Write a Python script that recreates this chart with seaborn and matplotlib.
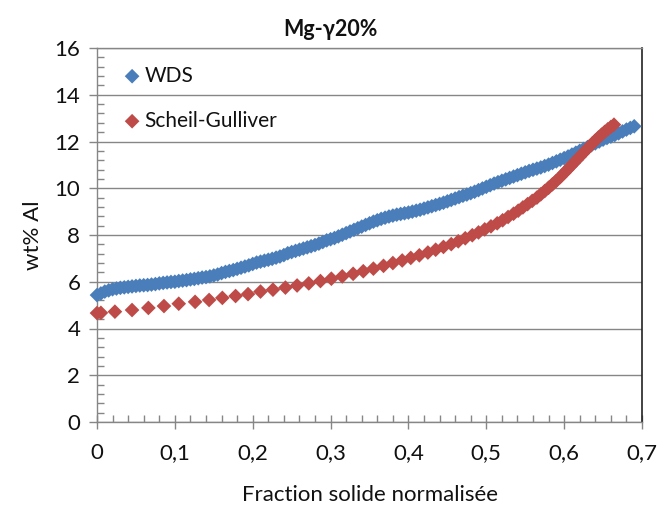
import matplotlib
matplotlib.use("Agg")
import matplotlib.pyplot as plt
import seaborn as sns
import pandas as pd
from matplotlib.ticker import MultipleLocator, FixedLocator

# ---- data ----
wds_x = [round(i * 0.005, 3) for i in range(139)]
wds_y = [5.43, 5.50, 5.58, 5.63, 5.68, 5.71, 5.74, 5.76, 5.78, 5.80,
         5.82, 5.84, 5.85, 5.86, 5.88, 5.90, 5.93, 5.95, 5.97, 5.99,
         6.00, 6.03, 6.05, 6.07, 6.10, 6.12, 6.15, 6.18, 6.20, 6.23,
         6.27, 6.31, 6.37, 6.42, 6.46, 6.50, 6.55, 6.60, 6.65, 6.70,
         6.76, 6.82, 6.86, 6.90, 6.94, 6.98, 7.03, 7.08, 7.14, 7.22,
         7.27, 7.32, 7.37, 7.42, 7.47, 7.52, 7.57, 7.63, 7.70, 7.77,
         7.82, 7.87, 7.94, 8.01, 8.08, 8.15, 8.22, 8.29, 8.36, 8.43,
         8.50, 8.57, 8.63, 8.69, 8.74, 8.79, 8.83, 8.87, 8.90, 8.93,
         8.96, 9.00, 9.04, 9.08, 9.13, 9.18, 9.23, 9.28, 9.33, 9.38,
         9.44, 9.50, 9.56, 9.62, 9.68, 9.73, 9.79, 9.85, 9.92, 9.99,
         10.06, 10.13, 10.20, 10.26, 10.32, 10.38, 10.44, 10.50, 10.56, 10.62,
         10.68, 10.74, 10.79, 10.84, 10.89, 10.95, 11.01, 11.08, 11.15, 11.22,
         11.29, 11.36, 11.44, 11.52, 11.60, 11.68, 11.76, 11.84, 11.92, 12.00,
         12.08, 12.15, 12.21, 12.28, 12.35, 12.43, 12.51, 12.58, 12.65]

scheil_x = [0.000, 0.005, 0.023, 0.045, 0.066, 0.086, 0.105, 0.126, 0.144, 0.161,
            0.178, 0.194, 0.210, 0.226, 0.242, 0.257, 0.272, 0.287, 0.301, 0.315,
            0.329, 0.342, 0.355, 0.368, 0.380, 0.392, 0.403, 0.414, 0.425, 0.435,
            0.445, 0.455, 0.464, 0.473, 0.482, 0.490, 0.498, 0.506, 0.514, 0.521,
            0.528, 0.535, 0.541, 0.547, 0.553, 0.559, 0.565, 0.570, 0.575, 0.580,
            0.585, 0.590, 0.595, 0.600, 0.604, 0.608, 0.612, 0.616, 0.620, 0.624,
            0.628, 0.632, 0.636, 0.640, 0.644, 0.648, 0.652, 0.656, 0.660, 0.664]
scheil_y = [4.66, 4.67, 4.72, 4.79, 4.88, 4.96, 5.06, 5.14, 5.22, 5.31,
            5.39, 5.47, 5.58, 5.66, 5.75, 5.84, 5.93, 6.03, 6.13, 6.23,
            6.34, 6.45, 6.56, 6.68, 6.80, 6.91, 7.02, 7.13, 7.25, 7.37,
            7.49, 7.61, 7.73, 7.86, 7.99, 8.11, 8.24, 8.37, 8.50, 8.63,
            8.77, 8.91, 9.04, 9.18, 9.32, 9.46, 9.60, 9.74, 9.88, 10.02,
            10.17, 10.32, 10.48, 10.65, 10.79, 10.93, 11.07, 11.21, 11.35, 11.49,
            11.63, 11.77, 11.91, 12.04, 12.17, 12.29, 12.41, 12.52, 12.62, 12.72]

series_names = ["WDS", "Scheil-Gulliver"]
x_ticklabels = ["0", "0,1", "0,2", "0,3", "0,4", "0,5", "0,6", "0,7"]
y_ticklabels = ["0", "2", "4", "6", "8", "10", "12", "14", "16"]
title = "Mg-\u03b320%"
xlabel = "Fraction solide normalisée"
ylabel = "wt% Al"

sns.set_style("white")
plt.rcParams['font.family'] = ['Lato', 'DejaVu Sans']

df_w = pd.DataFrame({"x": wds_x, "y": wds_y})
df_s = pd.DataFrame({"x": scheil_x, "y": scheil_y})

fig = plt.figure(figsize=(6.6, 5.07), dpi=100)
ax = fig.add_axes([97/660, 1-422/507, (642-97)/660, (422-48)/507])

blue = "#4A7EBB"
red = "#BE4B48"
sns.scatterplot(data=df_w, x="x", y="y", ax=ax, marker="D", s=56, color=blue,
                edgecolor="none", linewidth=0, label=series_names[0], zorder=3, clip_on=False)
sns.scatterplot(data=df_s, x="x", y="y", ax=ax, marker="D", s=56, color=red,
                edgecolor="none", linewidth=0, label=series_names[1], zorder=4, clip_on=False)

ax.set_xlim(0, 0.7)
ax.set_ylim(0, 16)
ax.xaxis.set_major_locator(FixedLocator([i * 0.1 for i in range(8)]))
ax.set_xticklabels(x_ticklabels)
ax.xaxis.set_minor_locator(MultipleLocator(0.02))
ax.yaxis.set_major_locator(FixedLocator([i * 2 for i in range(9)]))
ax.set_yticklabels(y_ticklabels)
ax.yaxis.set_minor_locator(MultipleLocator(0.4))

gray = "#868686"
ax.grid(True, axis="y", which="major", color=gray, linewidth=1.0, zorder=0)
ax.grid(False, axis="x")
for s in ["left", "bottom", "top"]:
    ax.spines[s].set_color(gray)
    ax.spines[s].set_linewidth(1.0)
ax.spines["right"].set_color("#222222")
ax.spines["right"].set_linewidth(1.2)

ax.tick_params(axis="x", which="major", direction="inout", length=10, width=1,
               color=gray, labelsize=16, pad=10, labelcolor="#111111")
ax.tick_params(axis="x", which="minor", direction="in", length=5, width=1, color=gray)
ax.tick_params(axis="y", which="major", direction="out", length=6, width=1,
               color=gray, labelsize=16, pad=6, labelcolor="#111111")
ax.tick_params(axis="y", which="minor", direction="in", length=5, width=1, color=gray)
ax.tick_params(left=True, bottom=True, which="both")

ax.set_xlabel(xlabel, fontsize=16, color="#111111", labelpad=16)
ax.set_ylabel(ylabel, fontsize=16, color="#111111", labelpad=8)

fig.text(0.5, 1 - 29/507, title, ha="center", va="center", fontsize=15.5,
         fontweight="bold", color="#111111")

leg = ax.legend(loc="upper left", frameon=False, fontsize=15, handletextpad=0.1,
                labelspacing=1.2, borderaxespad=0.0, handlelength=1.0,
                bbox_to_anchor=(0.03, 0.975))
for t in leg.get_texts():
    t.set_color("#111111")

fig.savefig("out.png", dpi=100)
